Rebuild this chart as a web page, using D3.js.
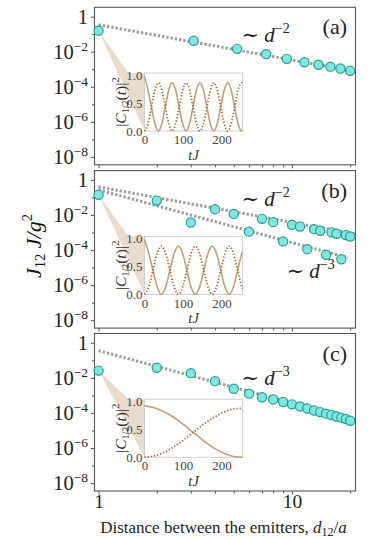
<!DOCTYPE html>
<html>
<head>
<meta charset="utf-8">
<script src="https://cdn.jsdelivr.net/npm/d3@7"></script>
<style>
  body { margin: 0; background: #fff; }
  svg { display: block; }
</style>
</head>
<body>
<svg id="chart" width="382" height="540"></svg>
<script>
// distances (d12/a) and couplings J12 J/g^2
const distA = [1, 3.1, 5.2, 7.35, 9.4, 11.6, 13.7, 15.8, 17.8, 20]
const couplingA = [1.58e-1, 4.2e-2, 1.45e-2, 7.2e-3, 3.9e-3, 2.5e-3, 1.8e-3, 1.4e-3, 1.1e-3, 8.1e-4]

const distBC = [1, 2, 3, 4, 5, 6, 7, 8, 9, 10, 11, 12, 13, 14, 15, 16, 17, 18, 19, 20]
const couplingB = [1.41e-1, 6.6e-2, 3.7e-3, 2.14e-2, 1.15e-2, 1.12e-3, 6.0e-3, 3.9e-3, 3.1e-4, 2.75e-3,
    2.2e-3, 1.12e-4, 1.55e-3, 1.26e-3, 5.4e-5, 1.02e-3, 8.5e-4, 3.0e-5, 7.1e-4, 5.9e-4]
const couplingC = [2.6e-2, 3.8e-2, 1.86e-2, 6.5e-3, 2.4e-3, 1.26e-3, 7.9e-4, 5.9e-4, 4.2e-4, 3.1e-4,
    2.35e-4, 1.8e-4, 1.38e-4, 1.12e-4, 9.1e-5, 7.6e-5, 6.3e-5, 5.4e-5, 4.5e-5, 3.6e-5]

// power-law guide lines, end points [d, J]
const guideA = [[1, 0.34], [21.3, 7.4e-4]]
const guideB2 = [[1, 0.4], [21.3, 8.2e-4]]
const guideB3 = [[1, 0.27], [19.5, 3.6e-5]]
const guideC = [[1, 0.36], [21.3, 3.8e-5]]

// inset populations |C1(t)|^2 (solid) and |C2(t)|^2 (dotted)
const insetA_t = [0, 9, 18, 27, 36, 45, 54, 63, 72, 81, 90, 99, 108, 117, 126, 135, 144, 153, 162, 171,
    180, 189, 198, 207, 216, 225, 234, 243, 252, 255]
const insetA_c1 = [0.98, 0.73, 0.43, 0.13, 0, 0.13, 0.43, 0.73, 0.86, 0.73, 0.43, 0.13, 0, 0.13, 0.43, 0.73,
    0.86, 0.73, 0.43, 0.13, 0, 0.13, 0.43, 0.73, 0.86, 0.73, 0.43, 0.13, 0, 0.01]
const insetA_c2 = [0, 0.13, 0.43, 0.73, 0.86, 0.73, 0.43, 0.13, 0, 0.13, 0.43, 0.73, 0.86, 0.73, 0.43, 0.13,
    0, 0.13, 0.43, 0.73, 0.86, 0.73, 0.43, 0.13, 0, 0.13, 0.43, 0.73, 0.86, 0.85]

const insetB_t = [0, 11, 22, 33, 44, 55, 66, 77, 88, 99, 110, 121, 132, 143, 154, 165, 176, 187, 198, 209,
    220, 231, 242, 253, 255]
const insetB_c1 = [0.98, 0.73, 0.43, 0.13, 0, 0.13, 0.43, 0.73, 0.86, 0.73, 0.43, 0.13, 0, 0.13, 0.43, 0.73,
    0.86, 0.73, 0.43, 0.13, 0, 0.13, 0.43, 0.73, 0.76]
const insetB_c2 = [0, 0.13, 0.43, 0.73, 0.86, 0.73, 0.43, 0.13, 0, 0.13, 0.43, 0.73, 0.86, 0.73, 0.43, 0.13,
    0, 0.13, 0.43, 0.73, 0.86, 0.73, 0.43, 0.13, 0.1]

const insetC_t = [0, 31, 62, 94, 125, 156, 188, 219, 250, 255]
const insetC_c1 = [0.92, 0.87, 0.77, 0.62, 0.45, 0.28, 0.13, 0.035, 0, 0]
const insetC_c2 = [0, 0.033, 0.127, 0.27, 0.435, 0.6, 0.74, 0.84, 0.87, 0.87]

const yMajor = [1, 1e-2, 1e-4, 1e-6, 1e-8]
const yMinor = [1e-1, 1e-3, 1e-5, 1e-7]
const xMajor = [1, 10]
const xMinor = [2, 3, 4, 5, 6, 7, 8, 9, 20]
const insetXTicks = [0, 100, 200]
const insetYTicks = [0, 0.5, 1]

const panels = [
    { tag: '(a)', dist: distA, J: couplingA, guides: [guideA],
      notes: [{ x: 241.5, dy: 35, p: '2' }],
      t: insetA_t, c1: insetA_c1, c2: insetA_c2 },
    { tag: '(b)', dist: distBC, J: couplingB, guides: [guideB2, guideB3],
      notes: [{ x: 241.5, dy: 35, p: '2' }, { x: 286.5, dy: 107.5, p: '3' }],
      t: insetB_t, c1: insetB_c1, c2: insetB_c2 },
    { tag: '(c)', dist: distBC, J: couplingC, guides: [guideC],
      notes: [{ x: 241.5, dy: 51, p: '3' }],
      t: insetC_t, c1: insetC_c1, c2: insetC_c2 }
]

const serif = "'Liberation Serif', 'DejaVu Serif', serif"
const frameLeft = 94.5, frameRight = 355.5
const panelTops = [7.3, 170.6, 333.5], panelH = 157.5
const inset = { left: 144.5, right: 242.7, top: 65.7, bottom: 123.7 }

const svg = d3.select('#chart')

const x = d3.scaleLog().domain([0.953, 21.3]).range([frameLeft, frameRight])
const tx = d3.scaleLinear().domain([0, 255]).range([inset.left, inset.right])

function supLabel(sel, v) {
    const e = Math.round(Math.log10(v))
    sel.text(null)
    if (e === 0) { sel.append('tspan').text('1'); return }
    sel.append('tspan').text('10')
    sel.append('tspan').attr('font-size', 13.5).attr('dy', -8).text('\u2212' + (-e))
}

panels.forEach((p, i) => {
    const top = panelTops[i]
    const y = d3.scaleLog().domain([Math.pow(10, -8.45), Math.pow(10, 0.53)]).range([top + panelH, top])
    const ty = d3.scaleLinear().domain([0, 1.035]).range([top + inset.bottom, top + inset.top])
    const g = svg.append('g')

    // frame
    g.append('rect')
        .attr('x', frameLeft).attr('y', top)
        .attr('width', frameRight - frameLeft).attr('height', panelH)
        .attr('fill', 'none').attr('stroke', '#555').attr('stroke-width', 1.1)

    // y axis
    const yAx = g.append('g').attr('transform', `translate(${frameLeft},0)`)
        .call(d3.axisLeft(y).tickValues(yMajor).tickSize(3.5).tickPadding(3).tickFormat(''))
    yAx.selectAll('.tick text')
        .attr('font-family', serif).attr('font-size', 20.5).attr('fill', '#222')
        .each(function (v) { supLabel(d3.select(this), v) })
    const yAxMin = g.append('g').attr('transform', `translate(${frameLeft},0)`)
        .call(d3.axisLeft(y).tickValues(yMinor).tickSize(2.5).tickFormat(''))
    ;[yAx, yAxMin].forEach(a => {
        a.select('.domain').remove()
        a.selectAll('.tick line').attr('stroke', '#555')
    })

    // x axis
    const xAx = g.append('g').attr('transform', `translate(0,${top + panelH})`)
        .call(d3.axisBottom(x).tickValues(xMajor).tickSize(3.5).tickPadding(0)
            .tickFormat(i === 2 ? d3.format('d') : ''))
    xAx.selectAll('.tick text')
        .attr('font-family', serif).attr('font-size', 19.5).attr('fill', '#222')
    const xAxMin = g.append('g').attr('transform', `translate(0,${top + panelH})`)
        .call(d3.axisBottom(x).tickValues(xMinor).tickSize(2.5).tickFormat(''))
    ;[xAx, xAxMin].forEach(a => {
        a.select('.domain').remove()
        a.selectAll('.tick line').attr('stroke', '#555')
    })

    // wedge from the d=1 point towards the inset
    const ax = x(p.dist[0]), ay = y(p.J[0])
    g.append('path')
        .attr('d', `M${ax},${ay}L${inset.left - 16},${top + inset.top}L${inset.left},${top + inset.top}L${inset.left},${top + inset.bottom}Z`)
        .attr('fill', '#eadccd')

    // guide lines
    const line = d3.line().x(d => x(d[0])).y(d => y(d[1]))
    p.guides.forEach(gd => {
        g.append('path').attr('d', line(gd))
            .attr('fill', 'none').attr('stroke', '#9e9e9e')
            .attr('stroke-width', 3).attr('stroke-dasharray', '2.4,1.9')
    })

    // data points
    g.selectAll('circle.pt')
        .data(p.dist.map((d, k) => [d, p.J[k]]))
        .enter().append('circle')
        .attr('class', 'pt')
        .attr('cx', d => x(d[0])).attr('cy', d => y(d[1]))
        .attr('r', 4.6)
        .attr('fill', '#7ce8df').attr('stroke', '#2a9c92').attr('stroke-width', 1.2)

    // annotations
    p.notes.forEach(n => {
        const t = g.append('text').attr('x', n.x).attr('y', top + n.dy)
            .attr('font-family', serif).attr('font-size', 21).attr('fill', '#222')
        t.append('tspan').text('\u223C ')
        t.append('tspan').attr('font-style', 'italic').text('d')
        t.append('tspan').attr('font-size', 14).attr('dy', -9).text('\u2212' + n.p)
    })
    g.append('text').attr('x', 347).attr('y', top + 27)
        .attr('text-anchor', 'end')
        .attr('font-family', serif).attr('font-size', 22).attr('fill', '#222')
        .text(p.tag)

    // inset
    g.append('rect')
        .attr('x', inset.left).attr('y', top + inset.top)
        .attr('width', inset.right - inset.left).attr('height', inset.bottom - inset.top)
        .attr('fill', '#fff').attr('stroke', '#c4c4c4').attr('stroke-width', 0.8)

    const iy = g.append('g').attr('transform', `translate(${inset.left},0)`)
        .call(d3.axisLeft(ty).tickValues(insetYTicks).tickSize(0).tickPadding(2).tickFormat(d3.format('.1f')))
    const ix = g.append('g').attr('transform', `translate(0,${top + inset.bottom})`)
        .call(d3.axisBottom(tx).tickValues(insetXTicks).tickSize(0).tickPadding(4))
    ;[iy, ix].forEach(a => {
        a.select('.domain').remove()
        a.selectAll('.tick text').attr('font-family', serif).attr('font-size', 13).attr('fill', '#444')
    })

    const curve = d3.line().x(d => tx(d[0])).y(d => ty(d[1])).curve(d3.curveMonotoneX)
    g.append('path').attr('d', curve(p.t.map((t, k) => [t, p.c1[k]])))
        .attr('fill', 'none').attr('stroke', '#c49e78').attr('stroke-width', 1.6)
    g.append('path').attr('d', curve(p.t.map((t, k) => [t, p.c2[k]])))
        .attr('fill', 'none').attr('stroke', '#a5672f').attr('stroke-width', 1.8)
        .attr('stroke-dasharray', '1.3,1.9')

    // inset labels
    const yl = g.append('text')
        .attr('transform', `translate(${inset.left - 19},${top + (inset.top + inset.bottom) / 2}) rotate(-90)`)
        .attr('text-anchor', 'middle')
        .attr('font-family', serif).attr('font-size', 15.5).attr('fill', '#333')
    yl.append('tspan').text('|')
    yl.append('tspan').attr('font-style', 'italic').text('C')
    yl.append('tspan').attr('font-size', 10).attr('dy', 3).text('1/2')
    yl.append('tspan').attr('dy', -3).text('(')
    yl.append('tspan').attr('font-style', 'italic').text('t')
    yl.append('tspan').text(')|')
    yl.append('tspan').attr('font-size', 11).attr('dy', -7).text('2')

    g.append('text')
        .attr('x', (inset.left + inset.right) / 2).attr('y', top + inset.bottom + 29)
        .attr('text-anchor', 'middle')
        .attr('font-family', serif).attr('font-size', 14.5).attr('font-style', 'italic').attr('fill', '#333')
        .text('tJ')
})

// axis titles
const ylab = svg.append('text')
    .attr('transform', 'translate(41,246) rotate(-90)')
    .attr('text-anchor', 'middle')
    .attr('font-family', serif).attr('font-size', 22).attr('fill', '#111')
ylab.append('tspan').attr('font-style', 'italic').text('J')
ylab.append('tspan').attr('font-size', 14.5).attr('dy', 4).text('12')
ylab.append('tspan').attr('dy', -4).attr('font-style', 'italic').text(' J/g')
ylab.append('tspan').attr('font-size', 14.5).attr('dy', -9).text('2')

const xlab = svg.append('text')
    .attr('x', 223.5).attr('y', 533)
    .attr('text-anchor', 'middle')
    .attr('font-family', serif).attr('font-size', 17).attr('fill', '#222')
xlab.append('tspan').text('Distance between the emitters, ')
xlab.append('tspan').attr('font-style', 'italic').text('d')
xlab.append('tspan').attr('font-size', 12).attr('dy', 3).text('12')
xlab.append('tspan').attr('dy', -3).text('/')
xlab.append('tspan').attr('font-style', 'italic').text('a')
</script>
</body>
</html>
